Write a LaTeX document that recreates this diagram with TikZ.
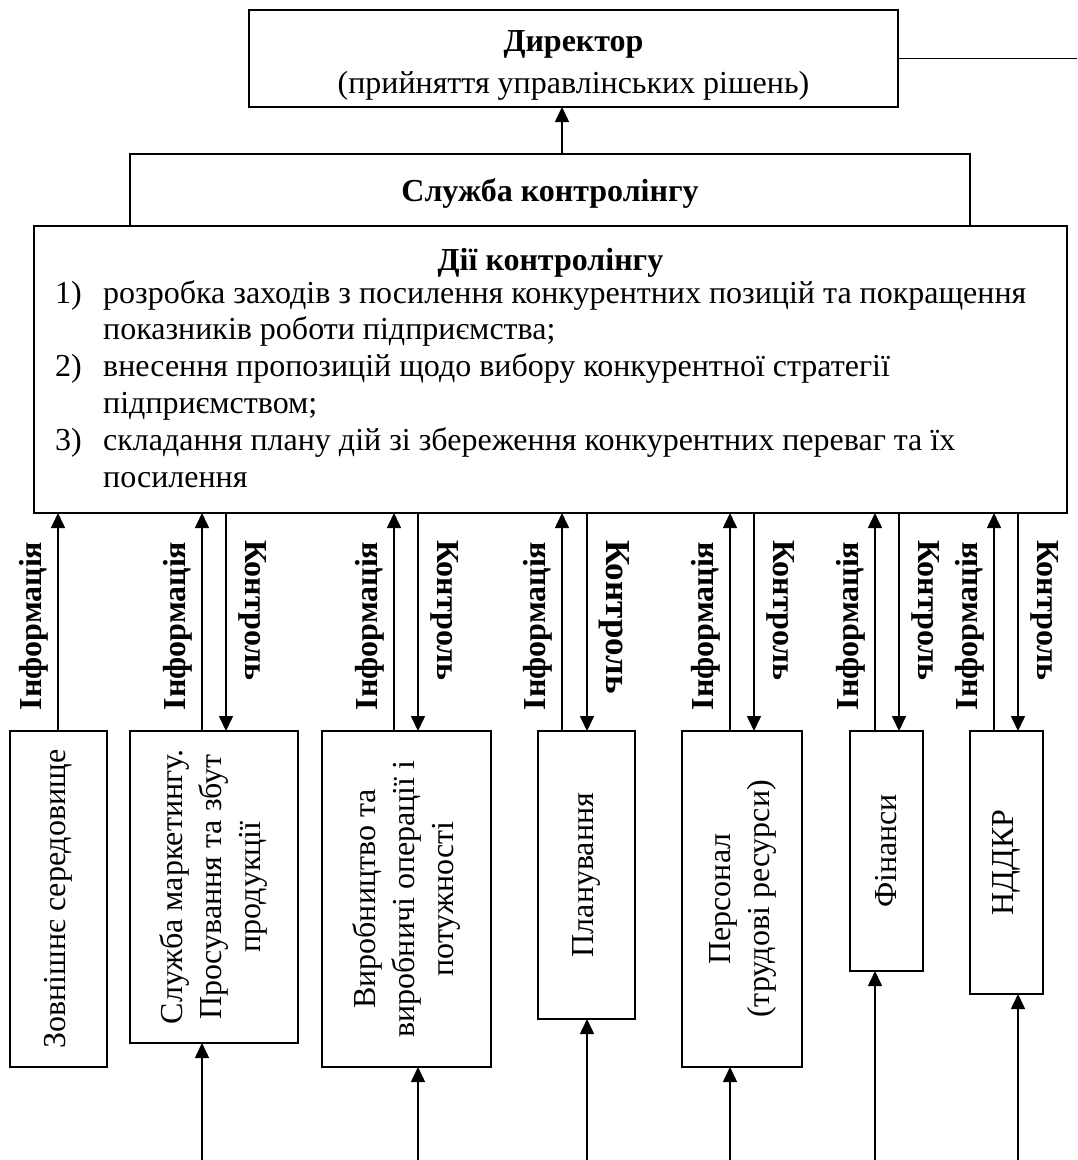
\documentclass[tikz,border=0pt]{standalone}
\usepackage{fontspec}
\setmainfont{Liberation Serif}
\usetikzlibrary{arrows.meta}
\begin{document}
\begin{tikzpicture}[x=1pt,y=-1pt,
  box/.style={draw, line width=1.6pt, inner sep=0pt, outer sep=0pt, align=center,
              font=\fontsize{32}{39}\selectfont},
  arr/.style={-{Triangle[length=15pt,width=14pt]}, line width=1.6pt},
  plain/.style={line width=1.6pt},
  infolbl/.style={font=\fontsize{32}{36.8}\selectfont\bfseries, inner sep=0pt, rotate=90},
  ctrllbl/.style={font=\fontsize{32}{36.8}\selectfont\bfseries, inner sep=0pt, rotate=-90, anchor=west},
  txt/.style={font=\fontsize{32}{36.8}\selectfont, inner sep=0pt},
]
\useasboundingbox (0,0) rectangle (1077,1160);

% top boxes
\node[box, minimum width=649pt, minimum height=97pt] (dir) at (573.5,58.5) {};
\node[txt, align=center, font=\fontsize{32}{42}\selectfont] (dirtxt) at (573.5,65)
  {\textbf{Директор}\\(прийняття управлінських рішень)};
\node[box, minimum width=840pt, minimum height=72pt] (sl) at (550,190) {};
\node[txt, font=\fontsize{32}{36.8}\selectfont\bfseries, anchor=base] (sltxt) at (550,201)
  {Служба контролінгу};
\node[box, minimum width=1033pt, minimum height=287pt] (dii) at (550.5,369.5) {};
\node[txt, font=\fontsize{32}{36.8}\selectfont\bfseries, anchor=base] (dtitle) at (550.5,270) {Дії контролінгу};
\node[txt, anchor=base west] (dlist) at (55,303)
 {\begin{tabular}[t]{@{}p{48pt}@{}l@{}}
 1) & розробка заходів з посилення конкурентних позицій та покращення\\
    & показників роботи підприємства;\\
 2) & внесення пропозицій щодо вибору конкурентної стратегії\\
    & підприємством;\\
 3) & складання плану дій зі збереження конкурентних переваг та їх\\
    & посилення
 \end{tabular}};

\coordinate (rend) at (1077,58.5);
\draw[plain] (dir.east) -- (rend);
\coordinate (slup) at ([xshift=12pt]sl.north);
\draw[arr] (slup) -- (slup |- dir.south);

% lower boxes
\node[box, minimum width=97pt, minimum height=336pt] (bz) at (58.5,899)
  {\rotatebox{90}{Зовнішнє середовище}};
\node[box, minimum width=168pt, minimum height=312pt] (bm) at (214,887)
  {\rotatebox{90}{\begin{tabular}{@{}c@{}}Служба маркетингу.\\Просування та збут\\продукції\end{tabular}}};
\node[box, minimum width=169pt, minimum height=336pt] (bv) at (406.5,899)
  {\rotatebox{90}{\begin{tabular}{@{}c@{}}Виробництво та\\виробничі операції і\\потужності\end{tabular}}};
\node[box, minimum width=97pt, minimum height=288pt] (bp) at (586.5,875)
  {\rotatebox{90}{Планування}};
\node[box, minimum width=120pt, minimum height=336pt] (bq) at (742,899)
  {\rotatebox{90}{\begin{tabular}{@{}c@{}}Персонал\\(трудові ресурси)\end{tabular}}};
\node[box, minimum width=73pt, minimum height=240pt] (bf) at (886.5,851)
  {\rotatebox{90}{Фінанси}};
\node[box, minimum width=73pt, minimum height=263pt] (bn) at (1006.5,862.5)
  {\rotatebox{90}{НДДКР}};

% information arrows (up)
\foreach \b/\dx in {bz/-0.5, bm/-12, bv/-12.5, bp/-24.5, bq/-12, bf/-11.5, bn/-12.5}{
  \coordinate (\b-in) at ([xshift=\dx pt]\b.north);
  \draw[arr] (\b-in) -- (\b-in |- dii.south);
  \node[infolbl] (\b-inlbl) at ([xshift=-24pt]\b-in |- 0,626) {Інформація};
}
% control arrows (down)
\foreach \b/\dx/\fs in {bm/12/32, bv/11.5/32, bp/0.5/35, bq/12/32, bf/12.5/32, bn/11.5/32}{
  \coordinate (\b-ct) at ([xshift=\dx pt]\b.north);
  \draw[arr] (\b-ct |- dii.south) -- (\b-ct);
  \node[ctrllbl, font=\fontsize{\fs}{36.8}\selectfont\bfseries] (\b-ctlbl) at ([xshift=27pt]\b-ct |- 0,540) {Контроль};
}
% bottom inputs
\foreach \b/\dx in {bm/-12, bv/11.5, bp/0.5, bq/-12, bf/-11.5, bn/11.5}{
  \coordinate (\b-so) at ([xshift=\dx pt]\b.south);
  \coordinate (\b-bo) at (\b-so |- 0,1160);
  \draw[arr] (\b-bo) -- (\b-so);
}
\end{tikzpicture}
\end{document}
